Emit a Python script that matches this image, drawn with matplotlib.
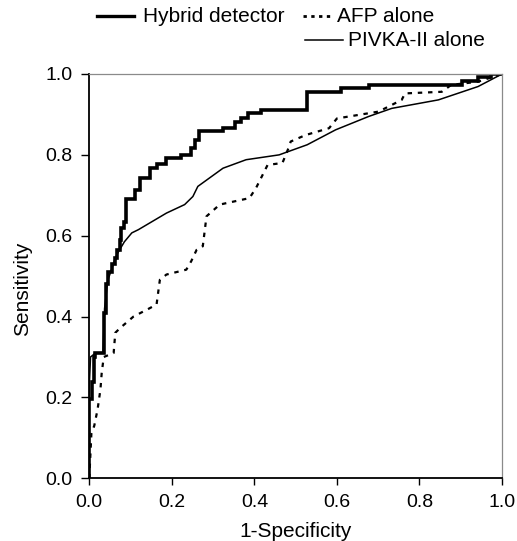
import matplotlib
matplotlib.use("Agg")
import matplotlib.pyplot as plt
from matplotlib.lines import Line2D

plt.rcParams['font.family'] = ['Liberation Sans', 'DejaVu Sans']

# Hybrid detector ROC (step curve, steps-post)
hybrid_fpr = [0, 0, 0.007, 0.012, 0.015, 0.035, 0.040, 0.045, 0.055, 0.062, 0.068, 0.074,
              0.077, 0.085, 0.090, 0.111, 0.123, 0.147, 0.163, 0.186, 0.223, 0.247, 0.255,
              0.267, 0.324, 0.352, 0.368, 0.384, 0.416, 0.528, 0.609, 0.677, 0.902, 0.942,
              0.974, 1.0]
hybrid_tpr = [0, 0.195, 0.237, 0.30, 0.31, 0.41, 0.48, 0.51, 0.53, 0.545, 0.565, 0.59,
              0.62, 0.635, 0.69, 0.714, 0.743, 0.768, 0.778, 0.793, 0.80, 0.816, 0.837,
              0.858, 0.866, 0.882, 0.89, 0.903, 0.911, 0.955, 0.965, 0.973, 0.983, 0.993,
              1.0, 1.0]

# AFP alone ROC
afp_fpr = [0, 0.005, 0.012, 0.02, 0.027, 0.03, 0.035, 0.059, 0.063, 0.075, 0.107, 0.145,
           0.163, 0.171, 0.187, 0.235, 0.247, 0.26, 0.275, 0.284, 0.316, 0.388, 0.404,
           0.432, 0.468, 0.484, 0.488, 0.524, 0.581, 0.60, 0.701, 0.757, 0.765, 0.854,
           0.877, 0.942, 1.0]
afp_tpr = [0, 0.11, 0.13, 0.17, 0.22, 0.26, 0.30, 0.31, 0.36, 0.372, 0.40, 0.42,
           0.43, 0.491, 0.504, 0.516, 0.537, 0.565, 0.574, 0.648, 0.677, 0.693, 0.718,
           0.775, 0.78, 0.82, 0.833, 0.849, 0.866, 0.89, 0.907, 0.936, 0.952, 0.956,
           0.973, 0.981, 1.0]

# PIVKA-II alone ROC
pivka_fpr = [0, 0, 0.003, 0.015, 0.033, 0.037, 0.045, 0.055, 0.063, 0.071, 0.085, 0.103,
             0.119, 0.187, 0.231, 0.251, 0.263, 0.324, 0.38, 0.46, 0.528, 0.597, 0.677,
             0.733, 0.846, 0.942, 1.0]
pivka_tpr = [0, 0.23, 0.30, 0.31, 0.31, 0.42, 0.49, 0.52, 0.545, 0.561, 0.585, 0.607,
             0.615, 0.656, 0.677, 0.697, 0.722, 0.767, 0.788, 0.80, 0.825, 0.862, 0.895,
             0.915, 0.936, 0.969, 1.0]

ticks = [0.0, 0.2, 0.4, 0.6, 0.8, 1.0]
tick_labels = ["0.0", "0.2", "0.4", "0.6", "0.8", "1.0"]

W, H = 517, 541
fig = plt.figure(figsize=(W / 100, H / 100), dpi=100)
left, right, top, bottom = 89.3, 502.0, 74.0, 478.3
ax = fig.add_axes([left / W, 1 - bottom / H, (right - left) / W, (bottom - top) / H])

ax.plot(pivka_fpr, pivka_tpr, color='black', lw=1.1, solid_joinstyle='round')
ax.plot(afp_fpr, afp_tpr, color='black', lw=1.6, linestyle=(0, (2, 2.6)))
ax.plot(hybrid_fpr, hybrid_tpr, color='black', lw=2.6, drawstyle='steps-post',
        solid_joinstyle='miter')

ax.set_xlim(0, 1)
ax.set_ylim(0, 1)
ax.set_xticks(ticks)
ax.set_xticklabels(tick_labels)
ax.set_yticks(ticks)
ax.set_yticklabels(tick_labels)
ax.tick_params(direction='out', length=5, width=1.0, labelsize=14, pad=6, colors='black')
ax.tick_params(axis='y', length=6)

for s in ['left', 'bottom']:
    ax.spines[s].set_linewidth(1.3)
    ax.spines[s].set_color('black')
for s in ['top', 'right']:
    ax.spines[s].set_linewidth(0.9)
    ax.spines[s].set_color('#8a8a8a')

ax.set_xlabel("1-Specificity", fontsize=15, labelpad=8)
fig.text(23 / W, 1 - 289 / H, "Sensitivity", rotation=90, ha='center', va='center', fontsize=15)

# Legend drawn in figure pixel coordinates
def px(x, y):
    return x / W, 1 - y / H

def leg_line(x0, x1, y, **kw):
    (a, b), (c, d) = px(x0, y), px(x1, y)
    fig.add_artist(Line2D([a, c], [b, d], transform=fig.transFigure, color='black', **kw))

leg_line(97, 134, 16, lw=2.4)
fig.text(*px(143, 16), "Hybrid detector", ha='left', va='center', fontsize=15)
leg_line(303, 332, 16, lw=2.0, linestyle=(0, (1.2, 1.6)))
fig.text(*px(337, 16), "AFP alone", ha='left', va='center', fontsize=15)
leg_line(305, 343, 40, lw=1.1)
fig.text(*px(348, 40), "PIVKA-II alone", ha='left', va='center', fontsize=15)

fig.savefig("out.png", dpi=100)
